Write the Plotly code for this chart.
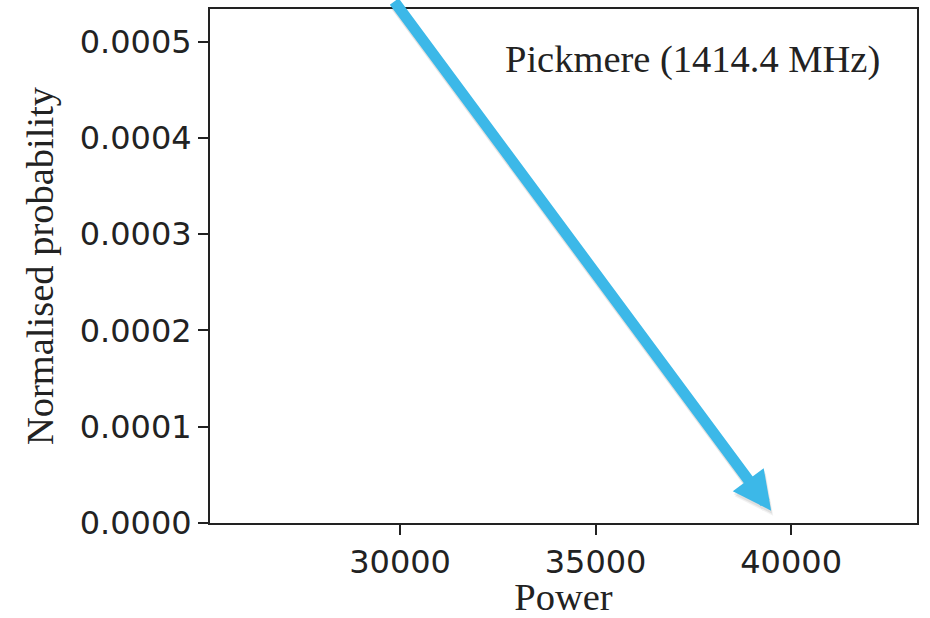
import plotly.graph_objects as go

# Axis extents and ticks
x_range = [25140, 43220]
y_range = [0.0, 0.000534]
x_ticks = [30000, 35000, 40000]
y_ticks = [0.0000, 0.0001, 0.0002, 0.0003, 0.0004, 0.0005]

panel_label = "Pickmere (1414.4 MHz)"
x_title = "Power"
y_title = "Normalised probability"

# Callout arrow: tip in data units, tail offset in pixels
arrow_tip = (39490, 0.0000128)
arrow_tail_offset = (-378, -518)
arrow_color = "#3cb8e8"

tick_font = dict(family="DejaVu Sans", size=32, color="#222222")
serif_font = dict(family="Liberation Serif", size=38.5, color="#222222")

fig = go.Figure()

# invisible trace so the axes are drawn
fig.add_trace(go.Scatter(x=[x_range[0]], y=[y_range[0]], mode="markers",
                         marker=dict(opacity=0), hoverinfo="skip", showlegend=False))

axis_common = dict(
    showgrid=False, zeroline=False, showline=True, linecolor="#222222", linewidth=2,
    mirror=True, ticks="outside", ticklen=10, tickwidth=2, tickcolor="#222222",
    tickfont=tick_font, automargin=False,
)

fig.update_xaxes(range=x_range, tickvals=x_ticks, tickformat="d",
                 title=dict(text=x_title, font=serif_font, standoff=12), **axis_common)
fig.update_yaxes(range=y_range, tickvals=y_ticks, tickformat=".4f",
                 title=dict(text=y_title, font=serif_font, standoff=14), **axis_common)

fig.add_annotation(xref="paper", yref="paper", x=0.951, y=0.901, xanchor="right",
                   yanchor="middle", text=panel_label, showarrow=False, font=serif_font)

# faint drop shadow under the arrow
for shift, alpha in [((1, -3), 0.07), ((2, -5), 0.05)]:
    fig.add_annotation(x=arrow_tip[0], y=arrow_tip[1], ax=arrow_tail_offset[0], ay=arrow_tail_offset[1],
                       text="", showarrow=True, arrowhead=2, arrowsize=0.7, arrowwidth=11,
                       arrowcolor=f"rgba(0,0,0,{alpha})", xshift=shift[0], yshift=shift[1],
                       standoff=0)
fig.add_annotation(x=arrow_tip[0], y=arrow_tip[1], ax=arrow_tail_offset[0], ay=arrow_tail_offset[1],
                   text="", showarrow=True, arrowhead=2, arrowsize=0.7, arrowwidth=11,
                   arrowcolor=arrow_color, standoff=0)

fig.update_layout(
    width=930, height=618,
    margin=dict(l=210, r=13, t=9, b=95),
    paper_bgcolor="white", plot_bgcolor="white",
    showlegend=False,
)

fig.write_html("out.html")
